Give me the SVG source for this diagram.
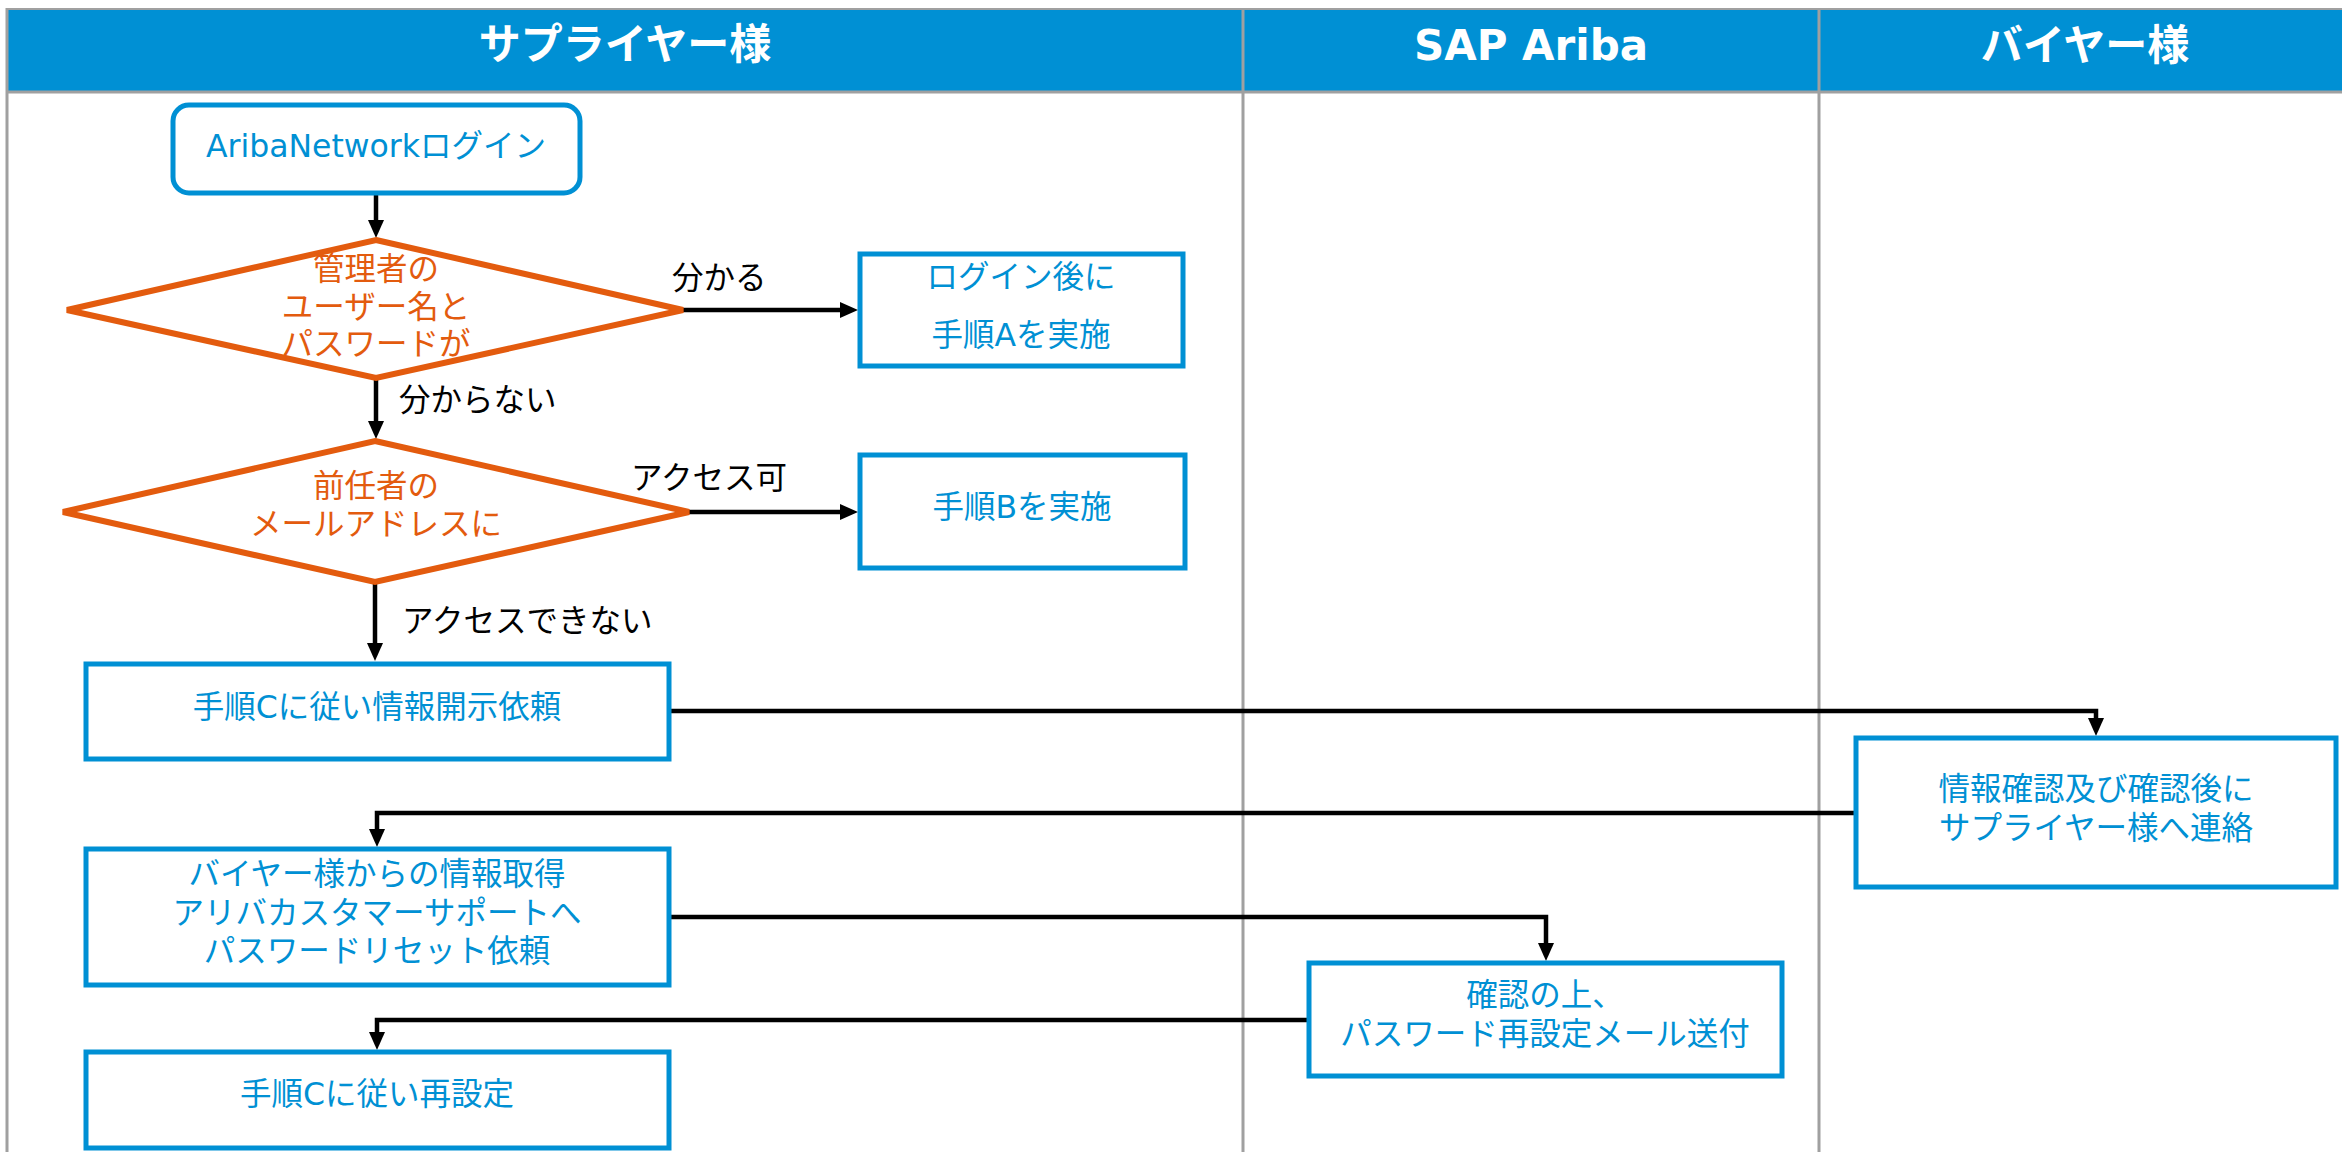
<svg xmlns="http://www.w3.org/2000/svg" width="2342" height="1152" viewBox="0 0 2342 1152">
<style>
.t{font-family:"DejaVu Sans","Noto Sans CJK JP",sans-serif;font-size:31.5px;text-anchor:middle}
.b{fill:#0090D4}
.o{fill:#E35B0E}
.l{font-family:"DejaVu Sans","Noto Sans CJK JP",sans-serif;font-size:31.5px;fill:#000}
.h{font-family:"DejaVu Sans","Noto Sans CJK JP",sans-serif;font-size:42px;font-weight:bold;fill:#fff;text-anchor:middle}
.box{fill:#fff;stroke:#0090D4;stroke-width:5}
.dia{fill:#fff;stroke:#E35B0E;stroke-width:6;stroke-linejoin:miter}
.grid{stroke:#A0A0A0;fill:none}
.c{fill:none;stroke:#000;stroke-width:4.5;marker-end:url(#ah)}
</style>
<defs>
<marker id="ah" markerUnits="userSpaceOnUse" markerWidth="18" markerHeight="16" refX="9" refY="8" orient="auto">
<path d="M0,0 L18,8 L0,16 z" fill="#000"/>
</marker>
</defs>
<rect width="2342" height="1152" fill="#fff"/>
<g id="lanes">
<rect x="8" y="10" width="2334" height="81" fill="#0090D4"/>
<line class="grid" x1="7" y1="9" x2="2342" y2="9" stroke-width="2"/>
<line class="grid" x1="7" y1="92" x2="2342" y2="92" stroke-width="3"/>
<line class="grid" x1="7" y1="8" x2="7" y2="1152" stroke-width="3"/>
<line class="grid" x1="1243" y1="8" x2="1243" y2="1152" stroke-width="3"/>
<line class="grid" x1="1819" y1="8" x2="1819" y2="1152" stroke-width="3"/>
<text class="h" x="625" y="59">サプライヤー様</text>
<text class="h" x="1531" y="60">SAP Ariba</text>
<text class="h" x="2085" y="60">バイヤー様</text>
</g>
<g id="connectors">
<path class="c" d="M376,193 V229"/>
<path class="c" d="M683,310 H849"/>
<path class="c" d="M376,378 V430"/>
<path class="c" d="M689,512 H849"/>
<path class="c" d="M375,582 V652"/>
<path class="c" d="M669,711 H2096 V727"/>
<path class="c" d="M1856,813 H377 V838"/>
<path class="c" d="M669,917 H1546 V952"/>
<path class="c" d="M1309,1020 H377 V1041"/>
<text class="l" x="672" y="289">分かる</text>
<text class="l" x="399" y="411">分からない</text>
<text class="l" x="631" y="489">アクセス可</text>
<text class="l" x="402" y="632">アクセスできない</text>
</g>
<g id="login">
<rect class="box" x="173" y="105" width="407" height="88" rx="16"/>
<text class="t b" x="376" y="157">AribaNetworkログイン</text>
</g>
<g id="decision1">
<polygon class="dia" points="376,240 683,310 376,378 67,310"/>
<text class="t o" x="376" y="280">管理者の</text>
<text class="t o" x="376" y="318">ユーザー名と</text>
<text class="t o" x="376" y="355">パスワードが</text>
</g>
<g id="stepA">
<rect class="box" x="860" y="254" width="323" height="112"/>
<text class="t b" x="1021" y="288">ログイン後に</text>
<text class="t b" x="1021" y="346">手順Aを実施</text>
</g>
<g id="decision2">
<polygon class="dia" points="375,441 689,512 375,582 63,512"/>
<text class="t o" x="376" y="497">前任者の</text>
<text class="t o" x="376" y="535">メールアドレスに</text>
</g>
<g id="stepB">
<rect class="box" x="860" y="455" width="325" height="113"/>
<text class="t b" x="1022" y="518">手順Bを実施</text>
</g>
<g id="stepC">
<rect class="box" x="86" y="664" width="583" height="95"/>
<text class="t b" x="377" y="718">手順Cに従い情報開示依頼</text>
</g>
<g id="buyer">
<rect class="box" x="1856" y="738" width="480" height="149"/>
<text class="t b" x="2096" y="800">情報確認及び確認後に</text>
<text class="t b" x="2096" y="839">サプライヤー様へ連絡</text>
</g>
<g id="stepD">
<rect class="box" x="86" y="849" width="583" height="136"/>
<text class="t b" x="377" y="885">バイヤー様からの情報取得</text>
<text class="t b" x="377" y="924">アリバカスタマーサポートへ</text>
<text class="t b" x="377" y="962">パスワードリセット依頼</text>
</g>
<g id="ariba">
<rect class="box" x="1309" y="963" width="473" height="113"/>
<text class="t b" x="1545" y="1006">確認の上、</text>
<text class="t b" x="1545" y="1045">パスワード再設定メール送付</text>
</g>
<g id="stepF">
<rect class="box" x="86" y="1052" width="583" height="96"/>
<text class="t b" x="377" y="1105">手順Cに従い再設定</text>
</g>
</svg>
